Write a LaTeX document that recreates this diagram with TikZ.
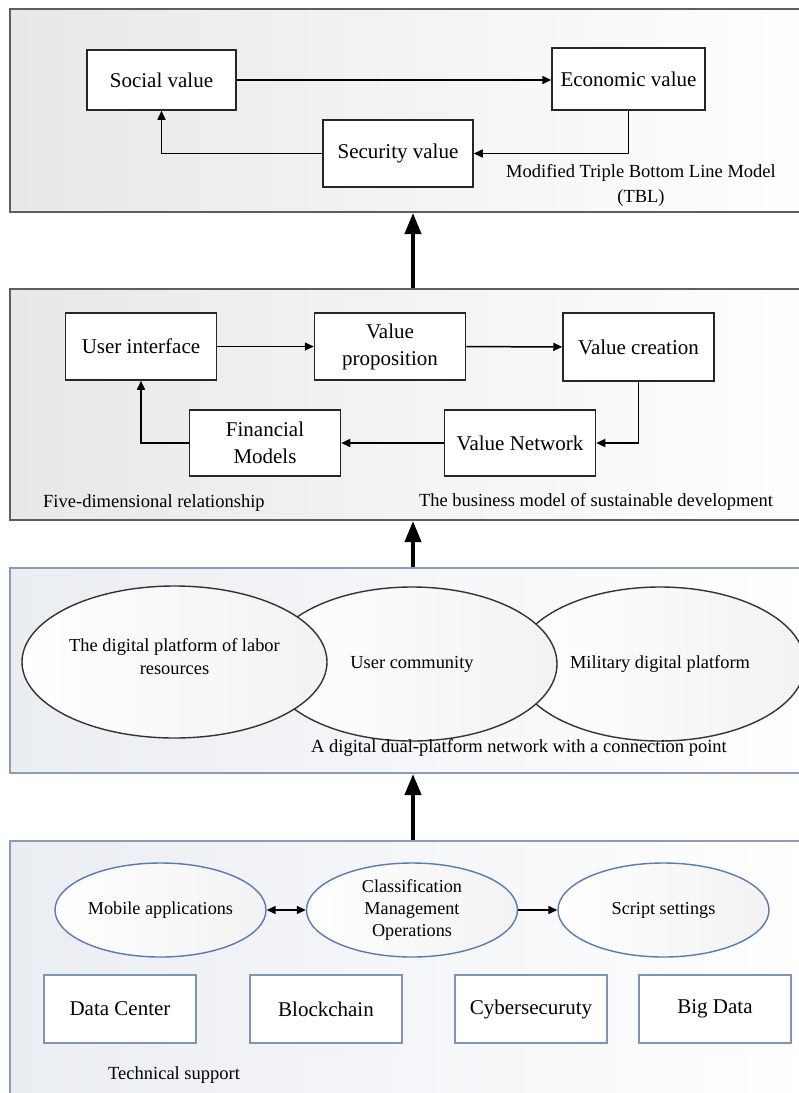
\documentclass[tikz,border=0pt]{standalone}
\usepackage{fontspec}
\setmainfont{Liberation Serif}
\usetikzlibrary{arrows.meta,shapes.geometric}
\definecolor{pgray}{HTML}{5E5E5E}
\definecolor{pblue}{HTML}{8C9CB5}
\definecolor{eblue}{HTML}{5A7AB3}
\definecolor{bblue}{HTML}{7F95B8}
\definecolor{shadeA}{HTML}{E8E8EB}
\definecolor{shadeB}{HTML}{EAEDF2}
\tikzset{
  panelgray/.style={draw=pgray, line width=2pt, left color=shadeA, right color=white, minimum width=806pt, inner sep=0},
  panelblue/.style={draw=pblue, line width=2pt, left color=shadeB, right color=white, minimum width=806pt, inner sep=0},
  vbox/.style={draw=black!85, line width=1.5pt, fill=white, minimum width=151pt, minimum height=66pt, inner sep=0, align=center, font=\fontsize{21}{27}\selectfont},
  tbox/.style={draw=bblue, line width=1.5pt, fill=white, minimum width=152pt, minimum height=68pt, inner sep=0, align=center, font=\fontsize{21}{27}\selectfont},
  bigell/.style={ellipse, draw=black!80, line width=1.4pt, left color=white, right color=gray!10, inner sep=0, align=center, font=\fontsize{18.4}{23}\selectfont},
  smallell/.style={ellipse, draw=eblue, line width=1.4pt, left color=white, right color=gray!10, minimum width=211pt, minimum height=94pt, inner sep=0, align=center, font=\fontsize{18.2}{22}\selectfont},
  lbl/.style={inner sep=0, align=center, font=\fontsize{18.5}{25}\selectfont},
  thin/.style={line width=1.5pt, -{Triangle[length=9pt,width=8pt]}},
  bigarrow/.style={line width=4pt, -{Triangle[length=21pt,width=16pt]}},
}
\begin{document}
\begin{tikzpicture}[x=1pt,y=-1pt]
\clip (0,0) rectangle (799,1093);
\fill[white] (0,0) rectangle (799,1093);

% panels
\node[panelgray, minimum height=203pt] (p1) at (413,110.5) {};
\node[panelgray, minimum height=231pt] (p2) at (413,404.5) {};
\node[panelblue, minimum height=205pt] (p3) at (413,670.5) {};
\node[panelblue, minimum height=279pt] (p4) at (413,980.5) {};

% panel 1
\node[vbox, minimum width=149pt, minimum height=60pt] (soc) at (161.5,80) {Social value};
\node[vbox, minimum width=153pt, minimum height=62pt] (eco) at (628.5,79) {Economic value};
\node[vbox, minimum width=150pt, minimum height=67pt] (sec) at (398,153.5) {Security value};
\draw[thin] (soc.east) -- (eco.west |- soc.east);
\draw[thin] (eco.south) |- (sec.east);
\draw[thin] (sec.west) -| (soc.south);
\node[lbl] (tbl) at (641,185) {Modified Triple Bottom Line Model\\(TBL)};

% panel 2
\node[vbox, minimum height=67pt] (ui) at (141,346.5) {User interface};
\node[vbox, minimum height=67pt] (vp) at (390,346.5) {Value\\proposition};
\node[vbox, minimum height=68pt] (vc) at (638.5,347) {Value creation};
\node[vbox] (fm) at (265,443) {Financial\\Models};
\node[vbox] (vn) at (520,443) {Value Network};
\draw[thin] (ui) -- (vp);
\draw[thin] (vp) -- (vc);
\draw[thin] (vc.south) |- (vn.east);
\draw[thin] (vn) -- (fm);
\draw[thin] (fm.west) -| (ui.south);
\node[lbl, anchor=west] (fdr) at (43,503) {Five-dimensional relationship};
\node[lbl] (bms) at (596,502) {The business model of sustainable development};

% panel 3
\node[bigell, minimum width=290pt, minimum height=154pt] (mil) at (660,664) {Military digital platform};
\node[bigell, minimum width=290pt, minimum height=154pt] (uc) at (412,664) {User community};
\node[bigell, minimum width=305pt, minimum height=152pt] (lab) at (174.5,662) {The digital platform of labor\\resources\\[-13pt]};
\node[lbl] (ddp) at (519,748) {A digital dual-platform network with a connection point};

% panel 4
\node[smallell] (mob) at (160.5,910) {Mobile applications};
\node[smallell] (cls) at (412,910) {Classification\\Management\\Operations};
\node[smallell] (scr) at (663.5,910) {Script settings};
\draw[line width=1.5pt, {Triangle[length=9pt,width=8pt]}-{Triangle[length=9pt,width=8pt]}] (mob) -- (cls);
\draw[thin] (cls) -- (scr);
\node[tbox] (dc) at (120,1009) {Data Center};
\node[tbox] (bc) at (326,1009) {Blockchain};
\node[tbox] (cs) at (531,1009) {Cybersecuruty};
\node[tbox] (bd) at (715,1009) {Big Data};
\node[lbl, anchor=west] (ts) at (108,1075) {Technical support};

% big arrows
\draw[bigarrow] (p2.north) -- (p1.south);
\draw[bigarrow] (p3.north) -- (p2.south);
\draw[bigarrow] (p4.north) -- (p3.south);
\end{tikzpicture}
\end{document}
